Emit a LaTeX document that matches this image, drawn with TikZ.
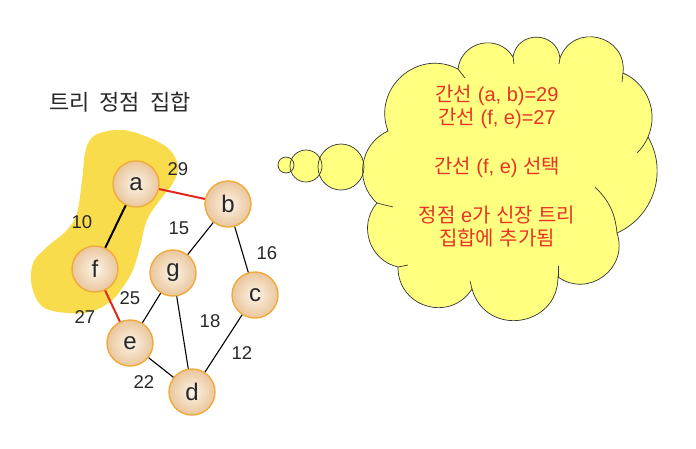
\documentclass[tikz,border=0pt]{standalone}
\usepackage{fontspec}
\setmainfont{Liberation Sans}
\newfontfamily\kr{Noto Sans CJK KR}
\definecolor{blobY}{RGB}{248,220,76}
\definecolor{cloudY}{RGB}{255,255,128}
\definecolor{nodeEdge}{RGB}{240,170,60}
\definecolor{nodeIn}{RGB}{252,244,232}
\definecolor{nodeOut}{RGB}{234,198,156}
\definecolor{redE}{RGB}{224,40,30}
\definecolor{redT}{RGB}{232,52,36}
\definecolor{grayT}{RGB}{40,40,40}
\newcommand{\ksp}{\hspace{10pt}}
\tikzset{
  vtx/.style={circle, draw=nodeEdge, line width=1.4pt, minimum size=46pt, inner sep=0pt,
    inner color=nodeIn, outer color=nodeOut, font=\fontsize{24}{24}\selectfont, text=grayT},
  wlabel/.style={font=\fontsize{18.5}{18.5}\selectfont, text=grayT},
  plain/.style={draw=black, line width=1.1pt},
  tree/.style={draw=black, line width=2pt},
  chosen/.style={draw=redE, line width=2pt},
  ctext/.style={font=\fontsize{20}{20}\selectfont, text=redT},
  lobe/.style n args={2}{bend left=#1, looseness=#2},
  cloudline/.style={draw=black!80, line width=0.7pt},
}
\begin{document}
\begin{tikzpicture}[x=1pt,y=-1pt]
\useasboundingbox (0,0) rectangle (696,448);
% title
\node[font=\kr\fontsize{22}{22}\selectfont, text=grayT] (title) at (120,102) {트리\ksp 정점\ksp 집합};
% blob
\fill[blobY] plot[smooth cycle, tension=0.6] coordinates {
 (100,133) (123,130) (150,138) (170,150) (178,167) (173,183) (160,200) (147,220)
 (140,247) (133,270) (123,287) (110,302) (90,312) (67,313) (43,307) (32,287)
 (33,263) (47,247) (67,230) (77,213) (82,180) (85,153) (90,140)};
% nodes
\node[vtx] (a) at (136,184) {a};
\node[vtx] (b) at (228,204) {b};
\node[vtx] (f) at (95,269) {f};
\node[vtx] (g) at (173,273) {g};
\node[vtx] (c) at (255,295) {c};
\node[vtx] (e) at (130,343) {e};
\node[vtx] (d) at (192,392) {d};
% edges
\draw[tree] (a) -- (f);
\draw[chosen] (a) -- (b);
\draw[chosen] (f) -- (e);
\draw[plain] (b) -- (g);
\draw[plain] (b) -- (c);
\draw[plain] (g) -- (e);
\draw[plain] (g) -- (d);
\draw[plain] (c) -- (d);
\draw[plain] (e) -- (d);
% weights
\node[wlabel] (w29) at (178,169) {29};
\node[wlabel] (w10) at (82,222) {10};
\node[wlabel] (w15) at (179,228) {15};
\node[wlabel] (w16) at (267,253) {16};
\node[wlabel] (w25) at (130,298) {25};
\node[wlabel] (w27) at (85,317) {27};
\node[wlabel] (w18) at (210,321) {18};
\node[wlabel] (w12) at (242,353) {12};
\node[wlabel] (w22) at (144,382) {22};
% cloud
\coordinate (P1) at (388,131);
\coordinate (P2) at (458,69);
\coordinate (P3) at (513,57);
\coordinate (P4) at (560,58);
\coordinate (P5) at (623,73);
\coordinate (P6) at (648,137);
\coordinate (P7) at (617,233);
\coordinate (P8) at (558,277);
\coordinate (P9) at (472,289);
\coordinate (P10) at (398,267);
\coordinate (P11) at (377,203);
\def\cloudpath{(P1) to[lobe={69}{1.25}] (P2) to[lobe={71}{1.28}] (P3) to[lobe={82}{1.49}] (P4)
  to[lobe={83}{1.52}] (P5) to[lobe={45}{1.0}] (P6) to[lobe={48}{1.02}] (P7)
  to[lobe={72}{1.3}] (P8) to[lobe={82}{1.49}] (P9) to[lobe={74}{1.34}] (P10)
  to[lobe={59}{1.12}] (P11) to[lobe={57}{1.1}] (P1) -- cycle}
\fill[cloudY] \cloudpath;
\fill[cloudY] (341,167) circle[radius=23];
\fill[cloudY] (306,166) circle[radius=16];
\fill[cloudY] (286,165) circle[radius=8];
\draw[cloudline] \cloudpath;
\draw[cloudline] (341,167) circle[radius=23];
\draw[cloudline] (306,166) circle[radius=16];
\draw[cloudline] (286,165) circle[radius=8];
% stubs
\coordinate (S7) at (595,187);
\draw[cloudline] (S7) to[bend left=20] (P7);
\coordinate (S6) at (637,153);
\draw[cloudline] (P6) to[bend left=10] (S6);
\coordinate (S2) at (465,78);
\draw[cloudline] (P2) -- (S2);
\coordinate (S3) at (514,64);
\draw[cloudline] (P3) -- (S3);
\coordinate (S4) at (559,64);
\draw[cloudline] (P4) -- (S4);
\coordinate (S5) at (622,82);
\draw[cloudline] (P5) -- (S5);
\coordinate (S8) at (558,266);
\draw[cloudline] (P8) -- (S8);
\coordinate (S9) at (470,281);
\draw[cloudline] (P9) -- (S9);
\coordinate (S10) at (408,265);
\draw[cloudline] (P10) -- (S10);
\coordinate (S11) at (393,207);
\draw[cloudline] (P11) -- (S11);
% cloud text
\node[ctext] (t1) at (497,95) {{\kr 간선} (a, b)=29};
\node[ctext] (t2) at (497,118) {{\kr 간선} (f, e)=27};
\node[ctext] (t3) at (497,167) {{\kr 간선} (f, e) {\kr 선택}};
\node[ctext] (t4) at (497,215) {{\kr 정점} e{\kr 가} {\kr 신장} {\kr 트리}};
\node[ctext] (t5) at (497,238) {{\kr 집합에} {\kr 추가됨}};
\end{tikzpicture}
\end{document}
